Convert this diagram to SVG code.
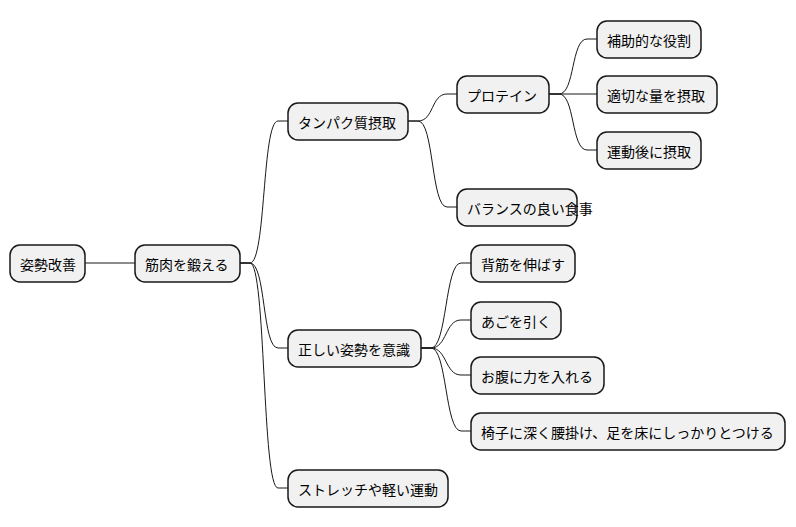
<svg xmlns="http://www.w3.org/2000/svg" width="796" height="527" viewBox="0 0 796 527">
<style>
.n rect{fill:#f1f1f1;stroke:#181818;stroke-width:1.5}
.n text{font-family:"Noto Sans CJK JP","Noto Sans CJK SC",sans-serif;font-size:14px;fill:#000;dominant-baseline:central}
.c path{fill:none;stroke:#181818;stroke-width:1}
</style>
<rect width="796" height="527" fill="#fff"/>
<g class="c">
<path d="M85,263 H135"/>
<path d="M240,263 H250 C266,263 262,121 278,121 H288"/>
<path d="M240,263 H250 C266,263 262,348 278,348 H288"/>
<path d="M240,263 H250 C266,263 262,488 278,488 H288"/>
<path d="M408,121 H418 C434,121 431,94 447,94 H457"/>
<path d="M408,121 H418 C434,121 431,207 447,207 H457"/>
<path d="M549,94 H559 C575,94 571,39 587,39 H597"/>
<path d="M549,94 H597"/>
<path d="M549,94 H559 C575,94 571,150 587,150 H597"/>
<path d="M421,348 H431 C447,348 445,263 461,263 H471"/>
<path d="M421,348 H431 C447,348 445,320 461,320 H471"/>
<path d="M421,348 H431 C447,348 445,375 461,375 H471"/>
<path d="M421,348 H431 C447,348 445,431 461,431 H471"/>
</g>
<g id="n1" class="n"><rect x="10" y="245" width="75" height="37" rx="10"/><text x="20" y="263.5">姿勢改善</text></g>
<g id="n2" class="n"><rect x="135" y="245" width="105" height="37" rx="10"/><text x="145" y="263.5">筋肉を鍛える</text></g>
<g id="n3" class="n"><rect x="288" y="103" width="120" height="37" rx="10"/><text x="298" y="121.5">タンパク質摂取</text></g>
<g id="n4" class="n"><rect x="457" y="76" width="92" height="37" rx="10"/><text x="467" y="94.5">プロテイン</text></g>
<g id="n5" class="n"><rect x="597" y="21" width="104" height="37" rx="10"/><text x="607" y="39.5">補助的な役割</text></g>
<g id="n6" class="n"><rect x="597" y="76" width="120" height="37" rx="10"/><text x="607" y="94.5">適切な量を摂取</text></g>
<g id="n7" class="n"><rect x="597" y="132" width="104" height="37" rx="10"/><text x="607" y="150.5">運動後に摂取</text></g>
<g id="n8" class="n"><rect x="457" y="189" width="120" height="37" rx="10"/><text x="467" y="207.5">バランスの良い食事</text></g>
<g id="n9" class="n"><rect x="288" y="330" width="133" height="37" rx="10"/><text x="298" y="348.5">正しい姿勢を意識</text></g>
<g id="n10" class="n"><rect x="471" y="245" width="104" height="37" rx="10"/><text x="481" y="263.5">背筋を伸ばす</text></g>
<g id="n11" class="n"><rect x="471" y="302" width="90" height="37" rx="10"/><text x="481" y="320.5">あごを引く</text></g>
<g id="n12" class="n"><rect x="471" y="357" width="133" height="37" rx="10"/><text x="481" y="375.5">お腹に力を入れる</text></g>
<g id="n13" class="n"><rect x="471" y="413" width="314" height="37" rx="10"/><text x="481" y="431.5">椅子に深く腰掛け、足を床にしっかりとつける</text></g>
<g id="n14" class="n"><rect x="288" y="470" width="160" height="37" rx="10"/><text x="298" y="488.5">ストレッチや軽い運動</text></g>
</svg>
